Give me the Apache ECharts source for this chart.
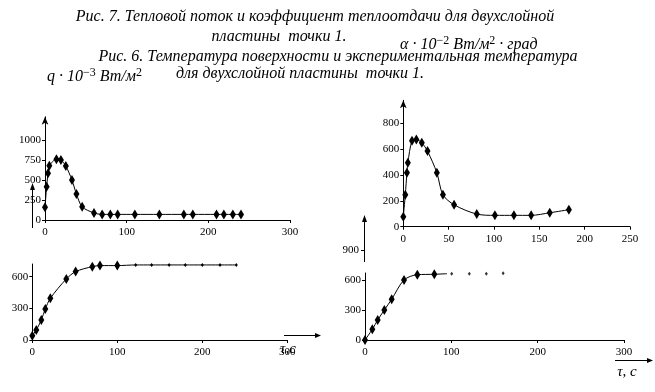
<!DOCTYPE html>
<html><head><meta charset="utf-8">
<script src="https://cdn.jsdelivr.net/npm/echarts@6/dist/echarts.min.js"></script>
<style>html,body{margin:0;padding:0;background:#fff}#c{width:655px;height:392px}</style>
</head><body><div id="c"></div>
<script>
// Top-left: heat flux q, 10^-3 W/m2
var tlT = [0, 2, 3.7, 5.3, 14, 19.5, 25.5, 33, 38.5, 45.5, 60, 70, 80, 89, 110, 140, 170, 181, 210, 219, 230, 240];
var tlV = [160, 416, 585, 677, 760, 750, 675, 500, 325, 165, 88, 70, 70, 70, 70, 70, 70, 70, 70, 70, 70, 70];
var tlXTicks = [0, 100, 200, 300];
var tlYTicks = [0, 250, 500, 750, 1000];
// Top-right: heat transfer coefficient alpha, 10^-2
var trT = [0, 2.2, 4, 5, 9.6, 14.4, 20.4, 26.7, 37, 43.7, 56, 81, 101, 122, 141, 161.5, 182.6];
var trV = [77, 248, 418, 495, 666, 676, 650, 586, 418, 248, 170, 98, 88, 88, 88, 108, 132];
var trXTicks = [0, 50, 100, 150, 200, 250];
var trYTicks = [0, 200, 400, 600, 800];
// Bottom-left: surface temperature
var blT = [0, 4.7, 10.6, 15.3, 21.2, 40, 51, 70.6, 79.6, 100, 121.6, 140.4, 161, 180, 200, 220.8, 240];
var blV = [41, 95, 190, 294, 395, 578, 648, 695, 705, 705, 711, 711, 711, 711, 711, 711, 711];
var blXTicks = [0, 100, 200, 300];
var blYTicks = [0, 300, 600];
// Bottom-right: experimental temperature
var brT = [0, 8.5, 14.7, 22.4, 30.9, 45.2, 60.6, 80.3, 95];
var brV = [0, 107, 200, 300, 407, 600, 653, 657, 663];
var brDotT = [100.4, 120.8, 140.5, 160];
var brDotV = [663, 663, 663, 667];
var brXTicks = [0, 100, 200, 300];
var brYTicks = [0, 300, 600];
var strayTick = ['900'];

function zip(a, b) { return a.map(function (v, i) { return [v, b[i]]; }); }
var FONT = 'Liberation Serif';
var lab = { fontFamily: FONT, fontSize: 11, color: '#000', formatter: function (v) { return String(v); } };
function xA(idx, max, ticks) {
  return { type: 'value', gridIndex: idx, min: 0, max: max, interval: ticks[1] - ticks[0],
    axisLine: { show: true, onZero: false, lineStyle: { color: '#000', width: 1 } },
    axisTick: { show: true, length: 3, lineStyle: { color: '#000' } },
    splitLine: { show: false },
    axisLabel: Object.assign({ margin: 7 }, lab) };
}
function yA(idx, max, ticks, arrow) {
  return { type: 'value', gridIndex: idx, min: 0, max: max, interval: ticks[1] - ticks[0],
    axisLine: { show: true, onZero: false, lineStyle: { color: '#000', width: 1 },
      symbol: arrow ? ['none', 'arrow'] : ['none', 'none'], symbolSize: [5, 8] },
    axisTick: { show: true, length: 3, customValues: ticks, lineStyle: { color: '#000' } },
    splitLine: { show: false },
    axisLabel: Object.assign({ margin: 4, customValues: ticks }, lab) };
}
var big = [6, 10];
var TF = 'italic 16px "Liberation Serif"';
var rich = { n: { fontFamily: FONT, fontStyle: 'italic', fontSize: 16, fill: '#000', lineHeight: 20 },
             s: { fontFamily: FONT, fontSize: 12, fill: '#000', verticalAlign: 'top', lineHeight: 12 } };
var option = {
  backgroundColor: '#fff',
  animation: false,
  grid: [
    { left: 45, top: 116.8, width: 245, height: 103.2 },
    { left: 403.3, top: 100.3, width: 226.7, height: 126.4 },
    { left: 32.3, top: 264, width: 255, height: 76 },
    { left: 365, top: 273, width: 259, height: 67 }
  ],
  xAxis: [xA(0, 300, tlXTicks), xA(1, 250, trXTicks), xA(2, 300, blXTicks), xA(3, 300, brXTicks)],
  yAxis: [yA(0, 1290, tlYTicks, true), yA(1, 980, trYTicks, true), yA(2, 720, blYTicks, false), yA(3, 670, brYTicks, false)],
  series: [
    { type: 'line', xAxisIndex: 0, yAxisIndex: 0, data: zip(tlT, tlV), smooth: 0.3,
      symbol: 'diamond', symbolSize: big, itemStyle: { color: '#000' }, lineStyle: { color: '#000', width: 1 } },
    { type: 'line', xAxisIndex: 1, yAxisIndex: 1, data: zip(trT, trV), smooth: 0.3,
      symbol: 'diamond', symbolSize: big, itemStyle: { color: '#000' }, lineStyle: { color: '#000', width: 1 } },
    { type: 'line', xAxisIndex: 2, yAxisIndex: 2, data: zip(blT, blV), smooth: 0.3,
      symbol: 'diamond', symbolSize: function (v, p) { return p.dataIndex < 10 ? big : [3, 4]; },
      itemStyle: { color: '#000' }, lineStyle: { color: '#000', width: 1 } },
    { type: 'line', xAxisIndex: 3, yAxisIndex: 3, data: zip(brT, brV), smooth: 0.3,
      symbol: 'diamond', symbolSize: function (v, p) { return p.dataIndex < brT.length - 1 ? big : 0; },
      itemStyle: { color: '#000' }, lineStyle: { color: '#000', width: 1 } },
    { type: 'scatter', xAxisIndex: 3, yAxisIndex: 3, data: zip(brDotT, brDotV),
      symbol: 'diamond', symbolSize: [3, 4], itemStyle: { color: '#000' } }
  ],
  graphic: [
    { type: 'text', x: 315, y: 17, style: { text: 'Рис. 7. Тепловой поток и коэффициент теплоотдачи для двухслойной',
      font: TF, fill: '#000', align: 'center', verticalAlign: 'middle' } },
    { type: 'text', x: 279, y: 37, style: { text: 'пластины  точки 1.',
      font: TF, fill: '#000', align: 'center', verticalAlign: 'middle' } },
    { type: 'text', x: 338, y: 57, style: { text: 'Рис. 6. Температура поверхности и экспериментальная температура',
      font: TF, fill: '#000', align: 'center', verticalAlign: 'middle' } },
    { type: 'text', x: 300, y: 74, style: { text: 'для двухслойной пластины  точки 1.',
      font: TF, fill: '#000', align: 'center', verticalAlign: 'middle' } },
    { type: 'text', x: 400, y: 45, style: {
      text: '{n|α · 10}{s|−2}{n| Вт/м}{s|2}{n| · град}', verticalAlign: 'middle', align: 'left', rich: rich } },
    { type: 'text', x: 47, y: 77, style: {
      text: '{n|q · 10}{s|−3}{n| Вт/м}{s|2}', verticalAlign: 'middle', align: 'left', rich: rich } },
    // stray arrows
    { type: 'line', shape: { x1: 32.5, y1: 228, x2: 32.5, y2: 185 }, style: { stroke: '#000', lineWidth: 1 } },
    { type: 'polygon', shape: { points: [[30, 190], [32.5, 183], [35, 190]] }, style: { fill: '#000' } },
    { type: 'line', shape: { x1: 364.5, y1: 262, x2: 364.5, y2: 219 }, style: { stroke: '#000', lineWidth: 1 } },
    { type: 'polygon', shape: { points: [[362, 222], [364.5, 215], [367, 222]] }, style: { fill: '#000' } },
    { type: 'line', shape: { x1: 361, y1: 250.5, x2: 364.5, y2: 250.5 }, style: { stroke: '#000', lineWidth: 1 } },
    { type: 'text', x: 359, y: 250, style: { text: strayTick[0], font: '11px "Liberation Serif"', fill: '#000', align: 'right', verticalAlign: 'middle' } },
    { type: 'line', shape: { x1: 284, y1: 335.5, x2: 318, y2: 335.5 }, style: { stroke: '#000', lineWidth: 1 } },
    { type: 'polygon', shape: { points: [[315, 333], [321, 335.5], [315, 338]] }, style: { fill: '#000' } },
    { type: 'line', shape: { x1: 615, y1: 360.5, x2: 650, y2: 360.5 }, style: { stroke: '#000', lineWidth: 1 } },
    { type: 'polygon', shape: { points: [[647, 358], [653, 360.5], [647, 363]] }, style: { fill: '#000' } },
    { type: 'text', x: 288, y: 349, style: { text: 'τ,c', font: 'italic 15px "Liberation Serif"', fill: '#000', align: 'center', verticalAlign: 'middle' } },
    { type: 'text', x: 627, y: 372, style: { text: 'τ, c', font: 'italic 15px "Liberation Serif"', fill: '#000', align: 'center', verticalAlign: 'middle' } }
  ]
};
var chart = echarts.init(document.getElementById('c'), null, { renderer: 'canvas' });
chart.setOption(option);
</script></body></html>
